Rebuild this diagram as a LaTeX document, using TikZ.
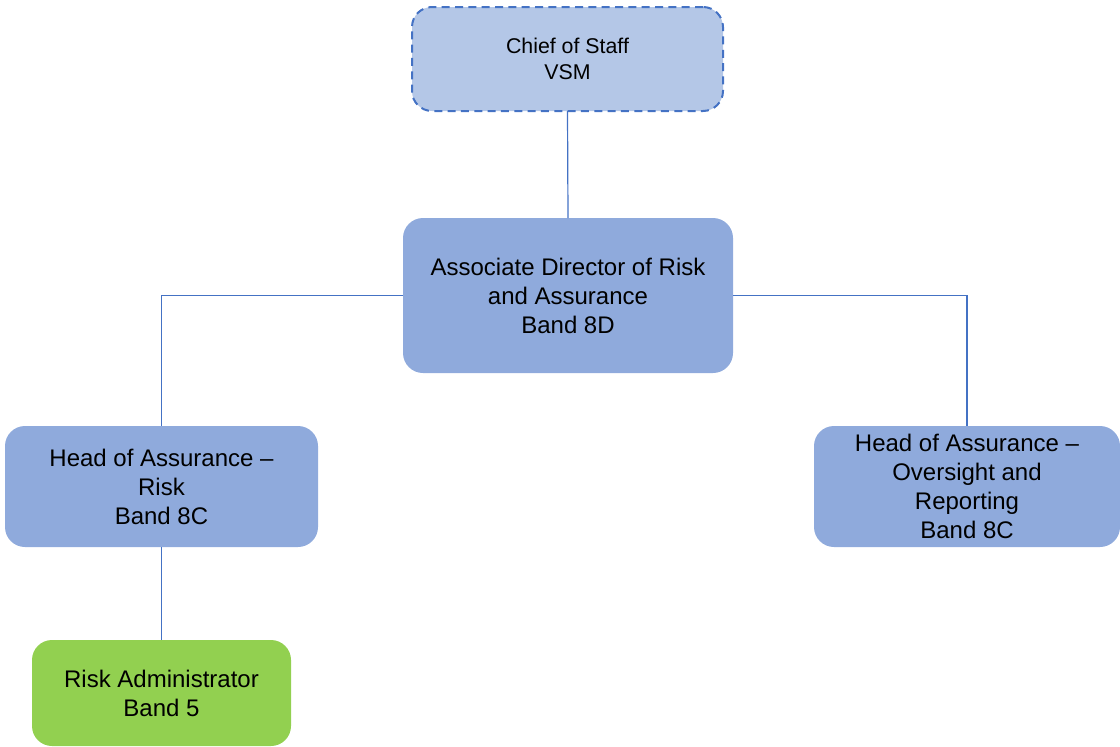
\documentclass[tikz,border=0pt]{standalone}
\usepackage{fontspec}
\setmainfont{Liberation Sans}
\usepackage{xcolor}
\usepackage{tikz}
\usetikzlibrary{positioning}
\definecolor{staffblue}{HTML}{B4C7E7}
\definecolor{postblue}{HTML}{8FAADC}
\definecolor{lineblue}{HTML}{4472C4}
\definecolor{admingreen}{HTML}{92D050}
\tikzset{
  post/.style={rounded corners=15pt,fill=postblue,inner sep=0pt,outer sep=0pt,align=center,font=\fontsize{18}{21.75}\selectfont},
  staffpost/.style={post,fill=staffblue,draw=lineblue,line width=1.5pt,dash pattern=on 6pt off 4pt,font=\fontsize{16}{19.5}\selectfont},
  adminpost/.style={post,fill=admingreen},
  link/.style={draw=lineblue,line width=0.9pt}
}
\begin{document}
\begin{tikzpicture}[x=0.75pt,y=-0.75pt]
\useasboundingbox(0,0)rectangle(1120,746);
\node[staffpost,minimum width=233.25pt,minimum height=78pt](chief)at(567.5,59){Chief of Staff\\VSM};
\node[post,minimum width=247.5pt,minimum height=116.25pt](ad)at(568,295.5){Associate Director of Risk\\and Assurance\\Band 8D};
\node[post,minimum width=234.75pt,minimum height=90.75pt](hrisk)at(161.5,486.5){Head of Assurance --\\Risk\\Band 8C};
\node[post,minimum width=229.5pt,minimum height=90.75pt](hover)at(967,486.5){Head of Assurance --\\Oversight and\\Reporting\\Band 8C};
\node[adminpost,minimum width=194.25pt,minimum height=79.5pt](radmin)at(161.5,693){Risk Administrator\\Band 5};
\draw[link](chief.south)--(ad.north);
\draw[link](ad.west)-|(hrisk.north);
\draw[link](ad.east)-|(hover.north);
\draw[link](hrisk.south)--(radmin.north);
\end{tikzpicture}
\end{document}
